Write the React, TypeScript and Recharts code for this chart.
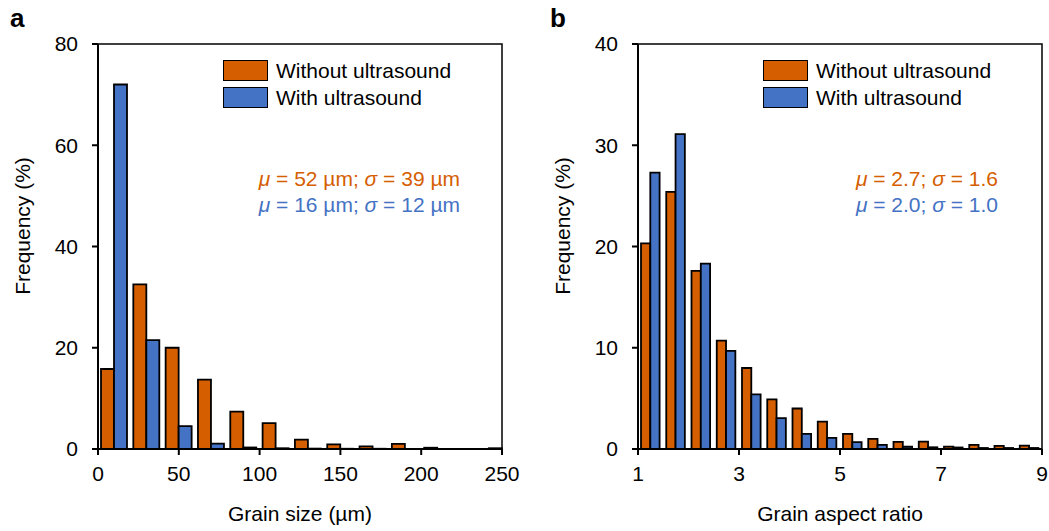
import { BarChart, Bar, XAxis, YAxis, Legend, ReferenceArea } from 'recharts';

const orange = '#D55E00';
const blue = '#4472C4';
const font = '"Liberation Sans", Arial, sans-serif';

// panel a: grain size, 20 µm bins (bin centres)
const sizeBins = [10, 30, 50, 70, 90, 110, 130, 150, 170, 190, 210, 230, 250];
const sizeWithout = [15.8, 32.5, 20.0, 13.7, 7.4, 5.1, 1.85, 0.9, 0.5, 1.0, 0.25, 0, 0.15];
const sizeWith = [72.0, 21.5, 4.5, 1.05, 0.3, 0.15, 0.08, 0.05, 0.05, 0, 0, 0, 0];
const sizeTicksX = [0, 50, 100, 150, 200, 250];
const sizeTicksY = [0, 20, 40, 60, 80];

// panel b: aspect ratio, 0.5 bins (bin centres)
const ratioBins = [1.25, 1.75, 2.25, 2.75, 3.25, 3.75, 4.25, 4.75, 5.25, 5.75, 6.25, 6.75, 7.25, 7.75, 8.25, 8.75];
const ratioWithout = [20.3, 25.4, 17.6, 10.7, 8.0, 4.9, 4.0, 2.7, 1.5, 1.0, 0.7, 0.72, 0.23, 0.4, 0.3, 0.33];
const ratioWith = [27.3, 31.1, 18.3, 9.7, 5.4, 3.05, 1.5, 1.1, 0.68, 0.4, 0.22, 0.17, 0.15, 0.1, 0.1, 0.1];
const ratioTicksX = [1, 3, 5, 7, 9];
const ratioTicksY = [0, 10, 20, 30, 40];

const seriesNames = ['Without ultrasound', 'With ultrasound'];

const LegendBoxes = ({ payload }: any) => {
  // keep series order, recharts sorts legend items by name
  const items = [...(payload || [])].sort(
    (a: any, b: any) => seriesNames.indexOf(a.value) - seriesNames.indexOf(b.value)
  );
  return (
    <div style={{ fontFamily: font, fontSize: 21, color: '#000' }}>
      {items.map((item: any) => (
        <div key={item.value} style={{ display: 'flex', alignItems: 'center', height: 27 }}>
          <span
            style={{
              display: 'inline-block',
              width: 45,
              height: 21,
              boxSizing: 'border-box',
              border: '1.5px solid #000',
              background: item.color,
              marginRight: 8
            }}
          />
          <span style={{ lineHeight: '27px', whiteSpace: 'nowrap' }}>{item.value}</span>
        </div>
      ))}
    </div>
  );
};

type PanelProps = {
  letter: string;
  width: number;
  bins: number[];
  without: number[];
  withUs: number[];
  ticksX: number[];
  ticksY: number[];
  xLabel: string;
  statsWithout: [string, string];
  statsWith: [string, string];
  statsRight: number;
  barSize: number;
};

const Stat = ({ x, y, color, parts }: { x: number; y: number; color: string; parts: [string, string] }) => (
  <text x={x} y={y} textAnchor="end" fill={color} fontFamily={font} fontSize={21}>
    <tspan fontStyle="italic">μ</tspan>
    <tspan>{` = ${parts[0]}; `}</tspan>
    <tspan fontStyle="italic">σ</tspan>
    <tspan>{` = ${parts[1]}`}</tspan>
  </text>
);

const HistogramPanel: React.FC<PanelProps> = (p) => {
  const data = p.bins.map((x, i) => ({ x, without: p.without[i], withUs: p.withUs[i] }));
  const xMin = p.ticksX[0];
  const xMax = p.ticksX[p.ticksX.length - 1];
  const yMax = p.ticksY[p.ticksY.length - 1];
  const axisStyle = { stroke: '#000', strokeWidth: 2 };

  return (
    <BarChart
      width={p.width}
      height={531}
      data={data}
      margin={{ top: 44, right: p.width - 502, bottom: 52, left: 38 }}
      barGap={0}
      style={{ fontFamily: font }}
    >
      <XAxis
        type="number"
        dataKey="x"
        domain={[xMin, xMax]}
        ticks={p.ticksX}
        interval={0}
        height={30}
        tickSize={6}
        tickMargin={11}
        axisLine={axisStyle}
        tickLine={axisStyle}
        tick={{ fill: '#000', fontSize: 21, fontFamily: font }}
      />
      <YAxis
        type="number"
        domain={[0, yMax]}
        ticks={p.ticksY}
        interval={0}
        width={60}
        tickSize={6}
        tickMargin={14}
        axisLine={axisStyle}
        tickLine={axisStyle}
        tick={{ fill: '#000', fontSize: 21, fontFamily: font }}
      />
      <ReferenceArea x1={xMin} x2={xMax} y1={0} y2={yMax} fill="none" stroke="#000" strokeWidth={1.5} />
      <Bar dataKey="without" name={seriesNames[0]} fill={orange} stroke="#000" strokeWidth={1.8} barSize={p.barSize} isAnimationActive={false} />
      <Bar dataKey="withUs" name={seriesNames[1]} fill={blue} stroke="#000" strokeWidth={1.8} barSize={p.barSize} isAnimationActive={false} />
      <Legend
        layout="vertical"
        verticalAlign="middle"
        align="center"
        content={<LegendBoxes />}
        wrapperStyle={{ top: 57, left: 223, width: 270, height: 54 }}
      />
      <Stat x={p.statsRight} y={186} color={orange} parts={p.statsWithout} />
      <Stat x={p.statsRight} y={212} color={blue} parts={p.statsWith} />
      <text x={300} y={521} textAnchor="middle" fill="#000" fontFamily={font} fontSize={21}>
        {p.xLabel}
      </text>
      <text transform="rotate(-90)" x={-226} y={30} textAnchor="middle" fill="#000" fontFamily={font} fontSize={21}>
        Frequency (%)
      </text>
      <text x={10} y={27} fill="#000" fontFamily={font} fontSize={26} fontWeight="bold">
        {p.letter}
      </text>
    </BarChart>
  );
};

export default function App() {
  return (
    <div style={{ position: 'absolute', left: 0, top: 0, width: 1049, height: 531, background: '#fff', fontFamily: font }}>
      <div style={{ position: 'absolute', left: 0, top: 0 }}>
        <HistogramPanel
          letter="a"
          width={540}
          bins={sizeBins}
          without={sizeWithout}
          withUs={sizeWith}
          ticksX={sizeTicksX}
          ticksY={sizeTicksY}
          xLabel="Grain size (µm)"
          statsWithout={['52 µm', '39 µm']}
          statsWith={['16 µm', '12 µm']}
          statsRight={460}
          barSize={13}
        />
      </div>
      <div style={{ position: 'absolute', left: 540, top: 0 }}>
        <HistogramPanel
          letter="b"
          width={509}
          bins={ratioBins}
          without={ratioWithout}
          withUs={ratioWith}
          ticksX={ratioTicksX}
          ticksY={ratioTicksY}
          xLabel="Grain aspect ratio"
          statsWithout={['2.7', '1.6']}
          statsWith={['2.0', '1.0']}
          statsRight={458}
          barSize={9.3}
        />
      </div>
    </div>
  );
}
